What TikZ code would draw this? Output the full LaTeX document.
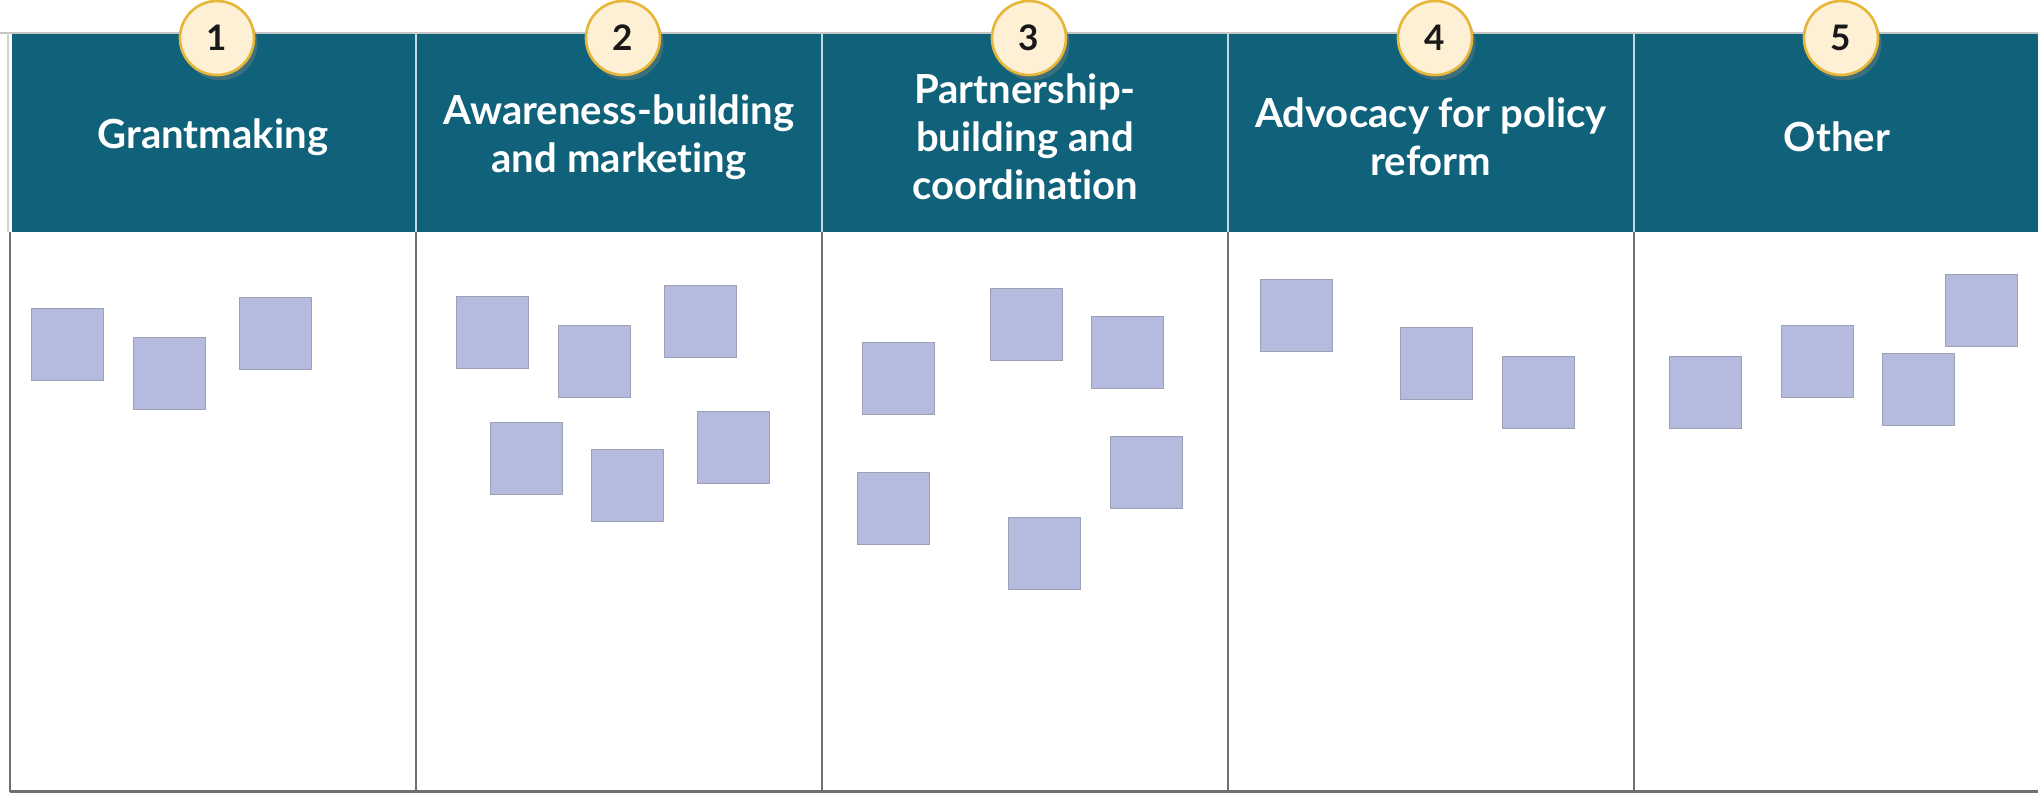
\documentclass[tikz,border=0pt]{standalone}
\usepackage{fontspec}
\setmainfont{Lato}[Ligatures=NoCommon]
\usetikzlibrary{shadows}
\definecolor{headteal}{RGB}{15,98,122}
\definecolor{notefill}{RGB}{181,186,223}
\definecolor{noteedge}{RGB}{158,160,182}
\definecolor{badgefill}{RGB}{253,240,213}
\definecolor{badgeedge}{RGB}{230,182,58}
\definecolor{gridgray}{RGB}{112,112,112}

\begin{document}
\begin{tikzpicture}[x=0.01cm, y=-0.01cm,
    headtext/.style={text=white, align=center, font=\fontsize{11.4pt}{13.7pt}\selectfont\bfseries},
    numbadge/.style={circle, draw=badgeedge, line width=0.75pt, fill=badgefill,
      minimum size=0.74cm, inner sep=0pt, text=black!90,
      font=\fontsize{10pt}{11pt}\selectfont\bfseries,
      drop shadow={shadow xshift=1pt, shadow yshift=-1.5pt, opacity=0.4}},
    stickynote/.style={draw=noteedge, line width=0.3pt, fill=notefill,
      minimum size=0.72cm, inner sep=0pt, anchor=north west}]
  \useasboundingbox (0,0) rectangle (2038,793);
  % header band and table frame
  \fill[headteal] (12,34) rectangle (2038,232);
  \draw[gray!45, line width=0.3pt] (0,33) -- (2038,33);
  \draw[gray!35, line width=0.3pt] (8,33) -- (8,232);
  \foreach \x in {416,822,1228,1634}
    \draw[white!75!headteal, line width=0.6pt] (\x,34) -- (\x,232);
  \foreach \x in {10,416,822,1228,1634}
    \draw[gridgray, line width=0.8pt] (\x,232) -- (\x,792);
  \draw[gridgray, line width=0.8pt] (10,791.5) -- (2038,791.5);
  % column titles with numbered badges
  \foreach \i/\cx/\txt in {1/213/Grantmaking,
      2/619/{Awareness-building\\and marketing},
      3/1025/{Partnership-\\building and\\coordination},
      4/1431/{Advocacy for policy\\reform},
      5/1837/Other}{
    \node[headtext] (head\i) at (\cx,137) {\txt};
    \node[numbadge] (num\i) at (\cx+4,38) {\i};
  }
  % sticky notes
  \foreach \n/\x/\y in {11/31/308, 12/133/337, 13/239/297,
      21/456/296, 22/558/325, 23/664/285, 24/490/422, 25/591/449, 26/697/411,
      31/862/342, 32/990/288, 33/1091/316, 34/1110/436, 35/857/472, 36/1008/517,
      41/1260/279, 42/1400/327, 43/1502/356,
      51/1669/356, 52/1781/325, 53/1882/353, 54/1945/274}
    \node[stickynote] (note\n) at (\x,\y) {};
\end{tikzpicture}
\end{document}
